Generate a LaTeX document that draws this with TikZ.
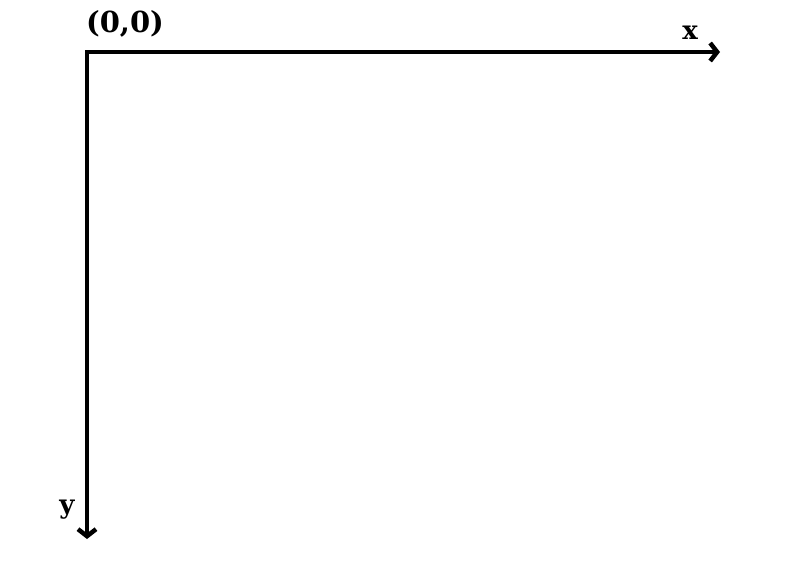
\documentclass[tikz,border=0pt]{standalone}
\usepackage{fontspec}
\setmainfont{DejaVu Serif}
\usetikzlibrary{arrows.meta}
\begin{document}
\begin{tikzpicture}[x=1pt,y=-1pt,
  axis/.style={line width=4.5pt,line join=miter,{Straight Barb[length=7pt,width=18pt]}-{Straight Barb[length=7pt,width=18pt]}},
  biglabel/.style={font=\fontsize{29}{34}\selectfont\bfseries,inner sep=0pt},
  smalllabel/.style={font=\fontsize{26}{30}\selectfont\bfseries,inner sep=0pt}]
\useasboundingbox (0,0) rectangle (800,581);
\coordinate (O) at (87,52);
\coordinate (xend) at (720,52);
\coordinate (yend) at (87,539);
\draw[axis] (xend) -- (O) -- (yend);
\node[biglabel] (orig) at (125,24) {(0,0)};
\node[smalllabel] (xl) at (690,33) {x};
\node[smalllabel] (yl) at (67,510) {y};
\end{tikzpicture}
\end{document}
